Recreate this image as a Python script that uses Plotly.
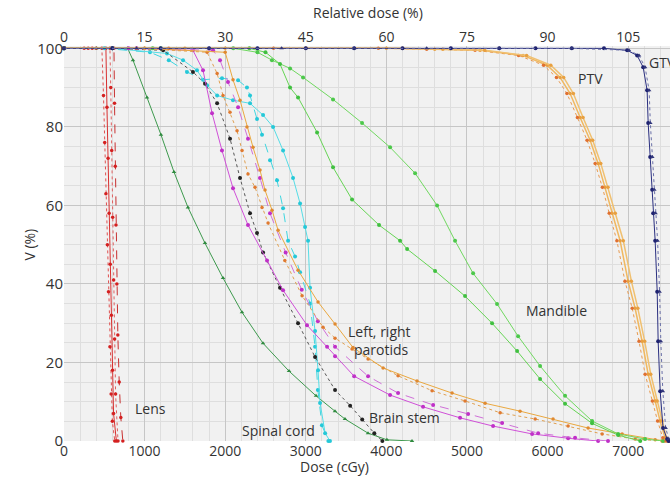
import plotly.graph_objects as go

# ---------------- data (dose in cGy, volume in %) ----------------
lens1_d = [0, 250, 470, 490, 505, 520, 538, 552, 570, 585, 600, 630]
lens1_v = [100, 100, 100, 88, 76, 63, 50, 38, 24, 12, 5, 0]
lens2_d = [0, 300, 520, 533, 547, 560, 574, 588, 602, 615, 650]
lens2_v = [100, 100, 100, 85, 72, 58, 45, 32, 18, 7, 0]
lens3_d = [0, 350, 570, 580, 592, 604, 616, 628, 640, 670]
lens3_v = [100, 100, 100, 90, 74, 57, 41, 26, 12, 0]
lens4_d = [0, 400, 620, 627, 636, 645, 656, 668, 685, 705, 730]
lens4_v = [100, 100, 100, 86, 70, 55, 40, 27, 15, 6, 0]

green_d = [0, 400, 790, 856, 1030, 1203, 1365, 1538, 1749, 1973, 2208, 2469,
           2792, 3127, 3362, 3486, 3772, 4007, 4318]
green_v = [100, 100, 100, 97, 87.5, 78, 68.5, 59.5, 50.4, 41.5, 32.8, 24.9,
           17.8, 11.5, 7.6, 5.6, 2, 0.3, 0]

cordA_d = [0, 500, 1067, 1300, 1526, 1725, 1960, 2160, 2270, 2308, 2395, 2457,
           2556, 2643, 2718, 2780, 2867, 2929, 3053, 3115, 3150, 3200, 3280]
cordA_v = [100, 100, 99, 97, 94, 92, 92.4, 91.9, 90, 88, 82, 78,
           71.5, 66.4, 59.3, 51, 47, 43, 35, 24, 13, 4, 0]
cordB_d = [0, 600, 1278, 1477, 1650, 1775, 1900, 2097, 2308, 2470, 2594, 2718,
           2842, 2929, 2991, 3028, 3053, 3115, 3152, 3177, 3240, 3300]
cordB_v = [100, 100, 98.7, 97, 94.4, 90.6, 88, 86.8, 86, 83, 80, 74,
           67, 60.5, 54.5, 51, 39, 28, 18, 9.7, 2, 0]

stem_d = [0, 600, 1230, 1600, 1750, 1900, 2060, 2184, 2308, 2395, 2470, 2680,
          2904, 3115, 3363, 3550, 3700, 3850, 3950]
stem_v = [100, 100, 99.5, 94, 91, 86, 77, 67, 58, 53, 48, 39,
          30, 21.4, 13, 9, 5.5, 2, 0]

mag1_d = [0, 800, 1600, 1725, 1837, 1960, 2097, 2283, 2519, 2718, 3015, 3264,
          3363, 3600, 4046, 4455, 4914, 5324, 5808, 6255, 6627]
mag1_v = [100, 100, 99.5, 94.4, 83.5, 74, 64.4, 55, 46, 38.4, 29.5, 24,
          21.6, 16.5, 11.7, 8.7, 5.9, 3.8, 1.8, 0.7, 0]
mag2_d = [0, 900, 1850, 1936, 2035, 2160, 2283, 2432, 2556, 2750, 2950, 3150,
          3363, 3773, 4145, 4580, 5014, 5436, 5883, 6341, 6750]
mag2_v = [100, 100, 99.5, 97, 91.4, 85, 77, 67, 58, 48, 38.5, 30.5,
          24, 16.5, 12.2, 9.2, 6.9, 4.6, 2, 0.8, 0]

par1_d = [0, 900, 1775, 1900, 1973, 2060, 2147, 2209, 2283, 2370, 2457, 2532,
          2740, 2954, 3214, 3363, 3574, 3773, 4145, 4567, 4976, 5411, 5846,
          6255, 6677, 7086, 7420]
par1_v = [100, 100, 99, 93.6, 88, 83.7, 79, 74, 68, 64.6, 59.5, 55.5,
          46, 37, 29, 26.2, 23.4, 20.9, 16.6, 12.8, 10.2, 7.2, 5.6,
          3.8, 1.8, 0.5, 0]
par2_d = [0, 1000, 2000, 2097, 2184, 2270, 2345, 2432, 2494, 2581, 2656, 2904,
          3152, 3363, 3586, 3959, 4380, 4815, 5225, 5659, 6068, 6503, 6925,
          7335, 7450]
par2_v = [100, 100, 99, 92, 86.8, 80, 74.8, 69, 63.9, 58.8, 53.7, 43.5,
          35.4, 29.8, 23.8, 18.6, 15.3, 12.2, 9.6, 7.6, 5.6, 3.3, 1.8,
          0.3, 0]

mand1_d = [0, 1100, 2100, 2400, 2580, 2805, 2966, 3338, 3698, 4046, 4356, 4629,
           4852, 5076, 5373, 5634, 5907, 6217, 6552, 6875, 7210, 7433]
mand1_v = [100, 100, 100, 99, 97, 94.9, 92.6, 87, 81, 74.8, 68.2, 60,
           51, 42.7, 34.9, 26.7, 19.1, 11.5, 5.1, 1.8, 0.5, 0]
mand2_d = [0, 1200, 2300, 2500, 2680, 2805, 2904, 3140, 3338, 3574, 3909, 4170,
           4257, 4604, 4976, 5311, 5622, 5907, 6217, 6552, 6875, 7150]
mand2_v = [100, 100, 100, 99, 96, 90, 87.5, 78.6, 69.7, 61.5, 55, 51,
           48.9, 43.3, 36.9, 30, 22.9, 15.8, 9.5, 4.5, 1.5, 0]

ptv1_d = [0, 1000, 2000, 3000, 4000, 4600, 5163, 5696, 5994, 6155, 6280, 6404,
          6528, 6627, 6714, 6800, 6900, 6999, 7086, 7173, 7248, 7335, 7396,
          7458, 7490]
ptv1_v = [100, 100, 100, 100, 100, 99.8, 99.5, 98.2, 95.7, 92.6, 88.5, 82.4,
          76.6, 70.7, 64.6, 58, 51, 40.7, 33.8, 25.4, 17, 10.2, 5.1,
          0.8, 0]
ptv2_d = [0, 1300, 2600, 3900, 4500, 5100, 5640, 5950, 6110, 6240, 6370,
          6490, 6590, 6680, 6765, 6860, 6960, 7050, 7135, 7210, 7300, 7365,
          7430, 7470]
ptv2_v = [100, 100, 100, 100, 99.8, 99.5, 98.2, 95.7, 92.6, 88.5, 82.4,
          76.6, 70.7, 64.6, 58, 51, 40.7, 33.8, 25.4, 17, 10.2, 5.1,
          0.8, 0]
ptv3_d = [0, 1500, 3000, 4200, 4700, 5220, 5740, 6040, 6200, 6320, 6440,
          6560, 6660, 6750, 6840, 6940, 7040, 7120, 7205, 7280, 7360, 7420,
          7475, 7505]
ptv3_v = [100, 100, 100, 100, 99.8, 99.5, 98.2, 95.7, 92.6, 88.5, 82.4,
          76.6, 70.7, 64.6, 58, 51, 40.7, 33.8, 25.4, 17, 10.2, 5.1,
          0.8, 0]

gtv1_d = [0, 600, 1200, 1800, 2400, 3000, 3600, 4200, 4800, 5400, 5850, 6300,
          6700, 6987, 7111, 7186, 7235, 7248, 7273, 7298, 7310, 7335, 7360,
          7372, 7397, 7433, 7483, 7500]
gtv1_v = [100, 100, 100, 100, 100, 100, 100, 100, 100, 100, 100, 100,
          100, 99.5, 98.2, 95.2, 89.3, 81, 72.3, 64, 58, 51, 38,
          25.4, 12.7, 3.3, 0.5, 0]
gtv2_d = [0, 900, 1800, 2700, 3600, 4500, 5400, 6300, 7010, 7135, 7210, 7260,
          7275, 7300, 7325, 7340, 7365, 7390, 7405, 7430, 7465, 7505, 7520]
gtv2_v = [100, 100, 100, 100, 100, 100, 100, 100, 99.5, 98.2, 95.2, 89.3,
          81, 72.3, 64, 58, 51, 38, 25.4, 12.7, 3.3, 0.5, 0]

rel_ticks = [0, 15, 30, 45, 60, 75, 90, 105]
dose_ticks = [0, 1000, 2000, 3000, 4000, 5000, 6000, 7000]
v_ticks = [0, 20, 40, 60, 80, 100]

# ---------------- figure ----------------
X_MAX = 7519
REF_DOSE = 6666.7  # cGy corresponding to 100 %

fig = go.Figure()

def add(d, v, color, dash="solid", mcolor=None, msym="circle", msize=4, width=1):
    fig.add_trace(go.Scatter(
        x=d, y=v, mode="lines+markers",
        line=dict(color=color, width=width, dash=dash),
        marker=dict(color=mcolor or color, size=msize, symbol=msym),
        showlegend=False, hoverinfo="skip", cliponaxis=False))

# lens
add(lens1_d, lens1_v, "#e05050", "dot", "#d42020", msize=3.5)
add(lens2_d, lens2_v, "#d83030", "solid", "#d42020", msize=3.5)
add(lens3_d, lens3_v, "#e06060", "dot", "#d42020", msize=3.5)
add(lens4_d, lens4_v, "#c83030", "dash", "#d42020", msize=3.5)
# dark green
add(green_d, green_v, "#3e9a4e", "solid", "#2f8a3f", "triangle-up")
# spinal cord
add(cordA_d, cordA_v, "#3fd6e0", "dash", "#25c8d8")
add(cordB_d, cordB_v, "#55dde6", "solid", "#25c8d8")
# brain stem
add(stem_d, stem_v, "#555555", "dot", "#222222")
# magenta
add(mag1_d, mag1_v, "#d050d8", "solid", "#c030c8")
add(mag2_d, mag2_v, "#d070d8", "dash", "#c030c8")
# parotids
add(par1_d, par1_v, "#e0a050", "dot", "#e07a30", msize=3.5)
add(par2_d, par2_v, "#eaa840", "solid", "#e08a30", msize=3.5)
# mandible
add(mand1_d, mand1_v, "#70d860", "solid", "#4cc84a")
add(mand2_d, mand2_v, "#66d455", "solid", "#40c040")
# PTV
add(ptv1_d, ptv1_v, "#f0b860", "solid", "#e8a040", msize=3.5, width=1.5)
add(ptv2_d, ptv2_v, "#e89a50", "dot", "#e07030", msize=3.5)
add(ptv3_d, ptv3_v, "#f0c070", "solid", "#e8a040", msize=3.5, width=1.5)
# GTV
add(gtv1_d, gtv1_v, "#2a2f80", "solid", "#1e2270", "circle")
add(gtv2_d, gtv2_v, "#6a70a8", "dot", "#30357a", "triangle-up")

# invisible trace for the relative-dose axis
fig.add_trace(go.Scatter(x=[0, X_MAX / REF_DOSE * 100], y=[0, 0], xaxis="x2",
                         mode="markers", marker=dict(opacity=0),
                         showlegend=False, hoverinfo="skip"))

font_fam = "Open Sans, Noto Sans, sans-serif"
txt = "#333333"

fig.update_layout(
    width=670, height=482,
    margin=dict(l=64, r=0, t=46, b=41),
    paper_bgcolor="white",
    plot_bgcolor="#f1f1f1",
    font=dict(family=font_fam, size=14, color=txt),
    xaxis=dict(range=[0, X_MAX], tickvals=dose_ticks, showgrid=True,
               gridcolor="#c6c6c6", gridwidth=1, zeroline=False, showline=False,
               ticks="", tickfont=dict(size=14, color=txt),
               minor=dict(dtick=200, showgrid=True, gridcolor="#dedede", gridwidth=1),
               automargin=False),
    xaxis2=dict(overlaying="x", side="top", range=[0, X_MAX / REF_DOSE * 100],
                tickvals=rel_ticks, showgrid=False, zeroline=False, showline=False,
                ticks="", tickfont=dict(size=14, color=txt), automargin=False),
    yaxis=dict(range=[0, 100.6], tickvals=v_ticks, showgrid=True,
               gridcolor="#c6c6c6", gridwidth=1, zeroline=False, showline=False,
               ticks="", tickfont=dict(size=15, color=txt),
               minor=dict(dtick=5, showgrid=True, gridcolor="#dedede", gridwidth=1),
               automargin=False),
)

ann = [
    dict(text="Lens", x=1067, y=8.4),
    dict(text="Spinal cord", x=2656, y=2.8),
    dict(text="Brain stem", x=4220, y=5.9),
    dict(text="Left, right<br> parotids", x=3910, y=25.7),
    dict(text="Mandible", x=6106, y=33.3),
    dict(text="PTV", x=6528, y=92.4),
]
for a in ann:
    fig.add_annotation(text=a["text"], x=a["x"], y=a["y"], xref="x", yref="y",
                       showarrow=False, font=dict(size=14, color=txt))
fig.add_annotation(text="GTV", x=7230, y=96.4, xref="x", yref="y", xanchor="left",
                   showarrow=False, font=dict(size=14, color=txt))

# axis titles
fig.add_annotation(text="Dose (cGy)", x=3351, y=0, xref="x", yref="paper",
                   yshift=-25, yanchor="middle", showarrow=False,
                   font=dict(size=14, color=txt))
fig.add_annotation(text="Relative dose (%)", x=3773, y=1, xref="x", yref="paper",
                   yshift=34, yanchor="middle", showarrow=False,
                   font=dict(size=14, color=txt))
fig.add_annotation(text="V (%)", x=0, y=49.9, xref="paper", yref="y",
                   xshift=-46, textangle=-90, showarrow=False,
                   font=dict(size=14, color=txt))

# remove the default page margin so the 670x482 figure fills the window exactly
fig.write_html("out.html",
               config={"displayModeBar": False},
               post_script="document.body.style.margin='0';"
                           "document.body.style.overflow='hidden';")
